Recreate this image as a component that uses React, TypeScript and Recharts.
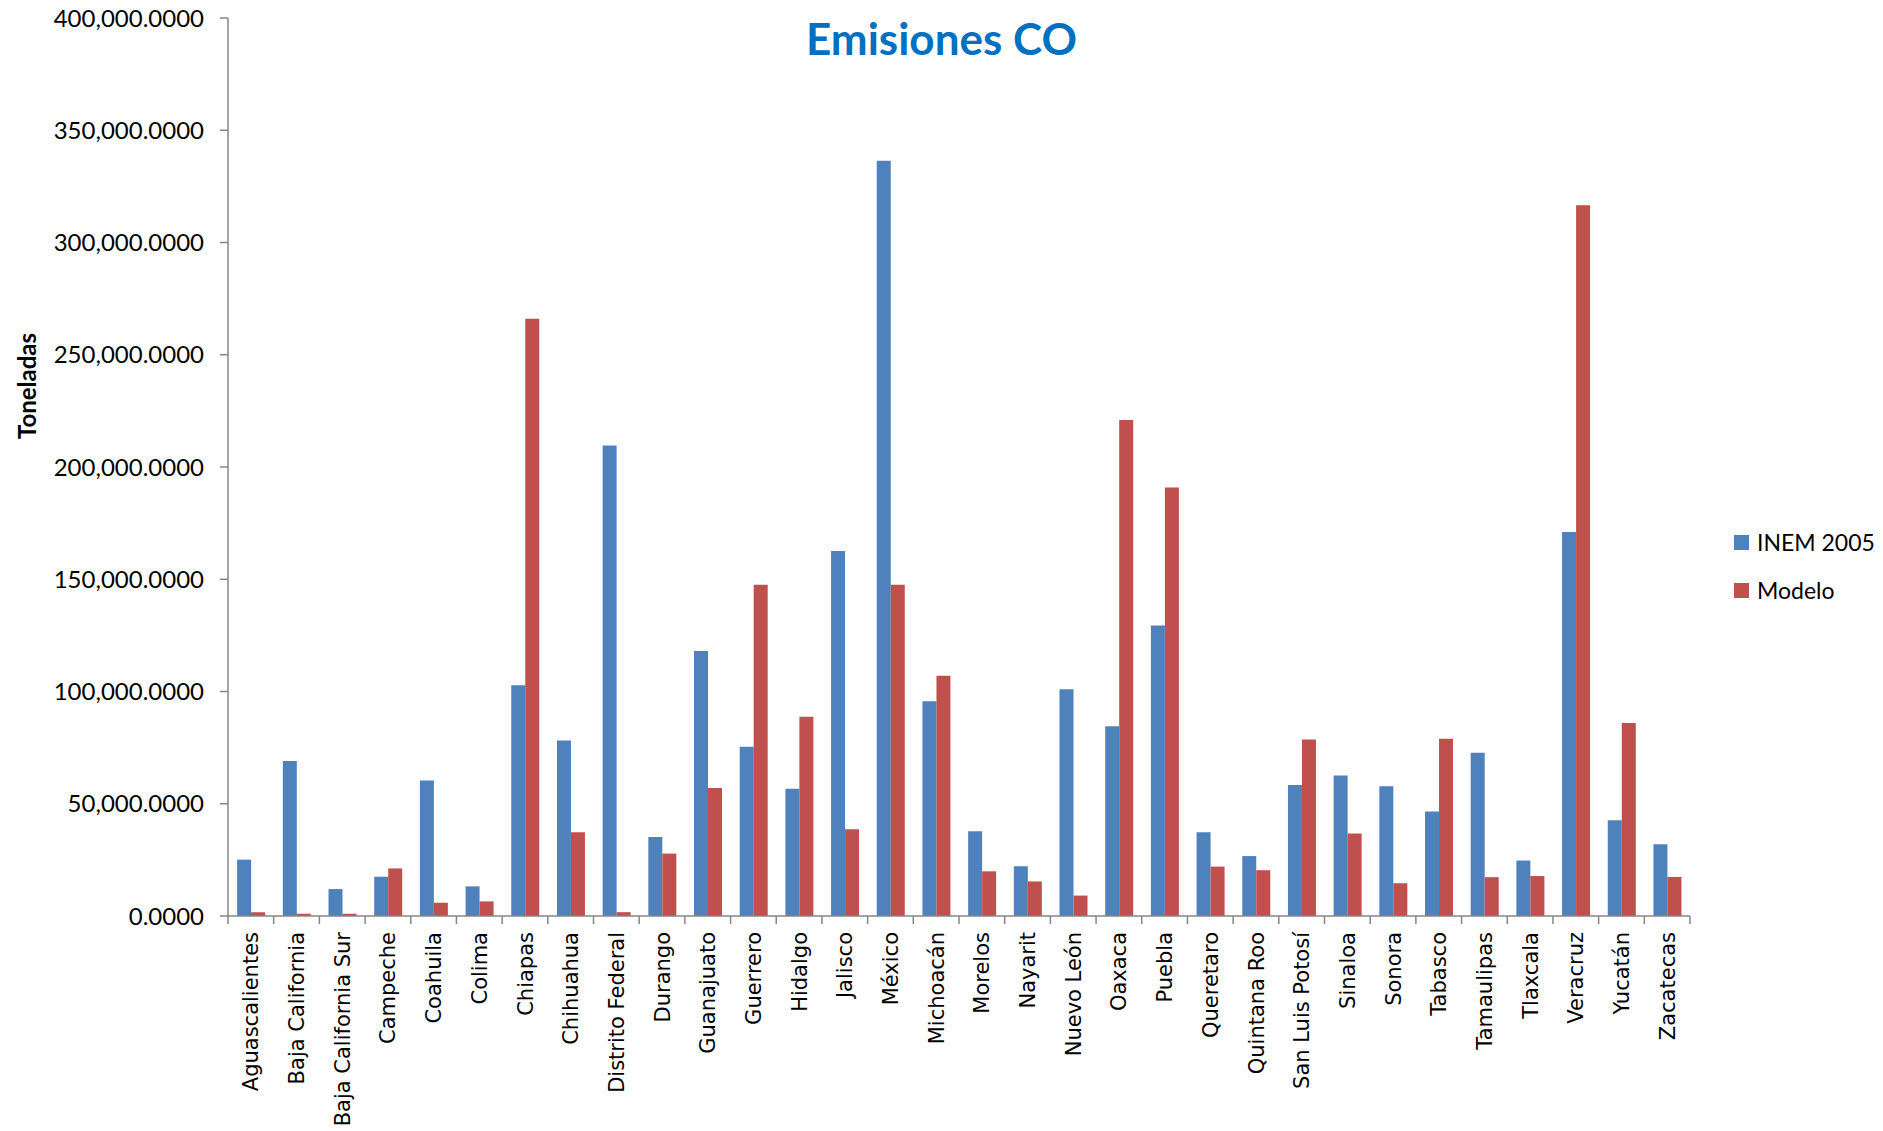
import React from 'react';
import { BarChart, Bar, XAxis, YAxis } from 'recharts';

const states = [
  'Aguascalientes', 'Baja California', 'Baja California Sur', 'Campeche', 'Coahuila', 'Colima',
  'Chiapas', 'Chihuahua', 'Distrito Federal', 'Durango', 'Guanajuato', 'Guerrero', 'Hidalgo',
  'Jalisco', 'México', 'Michoacán', 'Morelos', 'Nayarit', 'Nuevo León', 'Oaxaca', 'Puebla',
  'Queretaro', 'Quintana Roo', 'San Luis Potosí', 'Sinaloa', 'Sonora', 'Tabasco', 'Tamaulipas',
  'Tlaxcala', 'Veracruz', 'Yucatán', 'Zacatecas',
];

const inem2005 = [
  25100, 69000, 12000, 17500, 60400, 13200,
  102800, 78200, 209600, 35200, 118000, 75400, 56700,
  162600, 336400, 95700, 37700, 22200, 101000, 84500, 129400,
  37300, 26700, 58300, 62600, 57800, 46500, 72700,
  24700, 171000, 42600, 32000,
];

const modelo = [
  1700, 1000, 1000, 21200, 5900, 6500,
  266000, 37300, 1700, 27800, 57000, 147600, 88800,
  38600, 147600, 107000, 19900, 15400, 9100, 220900, 190900,
  22000, 20400, 78600, 36800, 14600, 79000, 17300,
  17800, 316600, 86000, 17400,
];

const yTicks = [0, 50000, 100000, 150000, 200000, 250000, 300000, 350000, 400000];
const seriesNames = ['INEM 2005', 'Modelo'];
const seriesColors = ['#4F81BD', '#C0504D'];

const W = 1883;
const H = 1131;
const LEFT = 228;
const RIGHT = 193;
const TOP = 18;
const XAXIS_H = 215;
const BAND = (W - LEFT - RIGHT) / states.length;
const AXIS = '#868686';

const data = states.map((s, i) => ({ state: s, inem: inem2005[i], modelo: modelo[i] }));

const fmt = (v: number) =>
  v.toLocaleString('en-US', { minimumFractionDigits: 4, maximumFractionDigits: 4 });

function StateTick(props: any) {
  const { x, y, payload, index } = props;
  const half = BAND / 2;
  return (
    <g transform={`translate(${x},${y})`}>
      <line x1={-half} y1={0} x2={-half} y2={8} stroke={AXIS} strokeWidth={1.5} />
      {index === states.length - 1 && (
        <line x1={half} y1={0} x2={half} y2={8} stroke={AXIS} strokeWidth={1.5} />
      )}
      <text
        transform="rotate(-90)"
        x={-16}
        y={0}
        dy="0.36em"
        textAnchor="end"
        fontFamily="'DejaVu Sans', sans-serif"
        fontSize={21}
        fill="#000"
      >
        {payload.value}
      </text>
    </g>
  );
}

export default function App() {
  return (
    <div style={{ position: 'absolute', left: 0, top: 0, width: W, height: H, background: '#fff' }}>
      <div
        style={{
          position: 'absolute',
          left: 0,
          width: W,
          top: 11,
          textAlign: 'center',
          fontFamily: 'Lato, sans-serif',
          fontWeight: 700,
          fontSize: 44,
          color: '#0070C0',
          lineHeight: '54px',
        }}
      >
        Emisiones CO
      </div>
      <BarChart
        width={W}
        height={H}
        data={data}
        margin={{ top: TOP, right: RIGHT, bottom: 0, left: 0 }}
        barCategoryGap="20%"
        barGap={0}
      >
        <XAxis
          dataKey="state"
          interval={0}
          height={XAXIS_H}
          tickLine={false}
          tickSize={0}
          tickMargin={0}
          axisLine={{ stroke: AXIS, strokeWidth: 1.5 }}
          tick={<StateTick />}
        />
        <YAxis
          width={LEFT}
          domain={[0, 400000]}
          ticks={yTicks}
          tickFormatter={fmt}
          tickSize={8}
          tickMargin={16}
          axisLine={{ stroke: AXIS, strokeWidth: 1.5 }}
          tickLine={{ stroke: AXIS, strokeWidth: 1.5 }}
          tick={{ fill: '#000', fontFamily: 'Lato, sans-serif', fontSize: 24 }}
          label={{
            content: () => (
              <text
                x={26}
                y={386}
                transform="rotate(-90 26 386)"
                textAnchor="middle"
                dominantBaseline="central"
                fontFamily="Lato, sans-serif"
                fontWeight={700}
                fontSize={24}
                fill="#000"
              >
                Toneladas
              </text>
            ),
          }}
        />
        <Bar dataKey="inem" name={seriesNames[0]} fill={seriesColors[0]} isAnimationActive={false} />
        <Bar dataKey="modelo" name={seriesNames[1]} fill={seriesColors[1]} isAnimationActive={false} />
      </BarChart>
      <div style={{ position: 'absolute', left: 1734, top: 518 }}>
        {seriesNames.map((n, i) => (
          <div
            key={n}
            style={{ display: 'flex', alignItems: 'center', height: 48, fontFamily: 'Lato, sans-serif', fontSize: 23, color: '#000' }}
          >
            <span style={{ width: 15, height: 15, background: seriesColors[i], marginRight: 8, display: 'inline-block' }} />
            {n}
          </div>
        ))}
      </div>
    </div>
  );
}
